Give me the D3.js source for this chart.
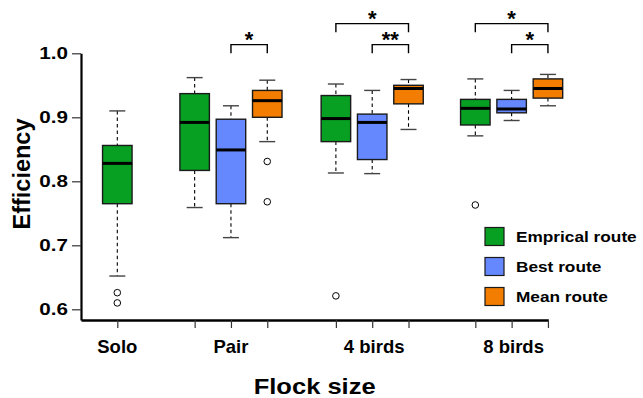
<!DOCTYPE html>
<html>
<head>
<meta charset="utf-8">
<script src="https://cdn.jsdelivr.net/npm/d3@7"></script>
<style>
  body { margin: 0; background: #fff; }
  text { font-family: "Liberation Sans", Arial, Helvetica, sans-serif; font-weight: bold; fill: #000; }
</style>
</head>
<body>
<div id="chart"></div>
<script>
// Box plot: route efficiency by flock size

const width = 643;
const height = 398;

// groups and series
const groups = ["Solo", "Pair", "4 birds", "8 birds"];
const series = ["Emprical route", "Best route", "Mean route"];
const colors = ["#08a022", "#6688ff", "#f27d00"];

// one entry per box
const boxGroup  = ["Solo", "Pair", "Pair", "Pair", "4 birds", "4 birds", "4 birds", "8 birds", "8 birds", "8 birds"];
const boxSeries = ["Emprical route", "Emprical route", "Best route", "Mean route",
                   "Emprical route", "Best route", "Mean route",
                   "Emprical route", "Best route", "Mean route"];
const whiskerLow  = [0.652, 0.759, 0.712, 0.862, 0.813, 0.812, 0.881, 0.871, 0.895, 0.918];
const q1          = [0.765, 0.817, 0.765, 0.900, 0.862, 0.834, 0.921, 0.888, 0.907, 0.930];
const median      = [0.828, 0.892, 0.849, 0.926, 0.898, 0.892, 0.945, 0.914, 0.913, 0.945];
const q3          = [0.856, 0.937, 0.897, 0.942, 0.934, 0.905, 0.950, 0.928, 0.928, 0.960];
const whiskerHigh = [0.910, 0.962, 0.918, 0.958, 0.952, 0.942, 0.959, 0.960, 0.942, 0.967];
const outliers    = [[0.626, 0.610], [], [], [0.831, 0.768], [0.621], [], [], [0.763], [], []];

// y ticks
const yTicks = [0.6, 0.7, 0.8, 0.9, 1.0];

// significance brackets
const sigGroup = ["Pair", "4 birds", "4 birds", "8 birds", "8 birds"];
const sigFrom  = ["Best route", "Emprical route", "Best route", "Emprical route", "Best route"];
const sigTo    = ["Mean route", "Mean route", "Mean route", "Mean route", "Mean route"];
const sigLabel = ["*", "*", "**", "*", "*"];
const sigTier  = [0, 1, 0, 1, 0];

// layout (box slot of each group centre, like R's boxplot "at")
const groupAt = [0, 3.13, 7.02, 10.86];

const svg = d3.select("#chart")
  .append("svg")
  .attr("width", width)
  .attr("height", height);

const x = d3.scaleLinear().domain([-1, 11.87]).range([81, 548.3]);
const y = d3.scaleLinear().domain([0.5833, 1.0]).range([320, 53.3]);

// slot of a box: group centre, plus offset of its series when the group has several
function slotOf(g, s) {
  const gi = groups.indexOf(g);
  const n = boxGroup.filter(d => d === g).length;
  return groupAt[gi] + (n === 1 ? 0 : series.indexOf(s) - 1);
}

const boxes = boxGroup.map((g, i) => ({
  group: g, series: boxSeries[i], slot: slotOf(g, boxSeries[i]),
  lo: whiskerLow[i], q1: q1[i], med: median[i], q3: q3[i], hi: whiskerHigh[i], out: outliers[i]
}));

/* Axes */
const ySx = 1.25;
const yAxis = svg.append("g")
  .attr("transform", "translate(81,0)")
  .call(d3.axisLeft(y).tickValues(yTicks).tickFormat(d3.format(".1f")).tickSize(9).tickSizeOuter(0));
yAxis.select(".domain").attr("stroke", "#000").attr("stroke-width", 2.2);
yAxis.selectAll(".tick line").attr("stroke", "#333").attr("stroke-width", 1.2);
yAxis.selectAll(".tick text")
  .attr("font-size", 16.5)
  .attr("font-family", null)
  .attr("x", -13 / ySx)
  .attr("transform", `scale(${ySx},1)`);

const xAxis = svg.append("g")
  .attr("transform", "translate(0,320)")
  .call(d3.axisBottom(x).tickValues(boxes.map(d => d.slot)).tickFormat("").tickSize(8).tickSizeOuter(0));
xAxis.select(".domain").attr("stroke", "#000").attr("stroke-width", 2.6);
xAxis.selectAll(".tick line").attr("stroke", "#333").attr("stroke-width", 1.2);

// group labels
svg.selectAll(".glabel")
  .data(groups)
  .enter()
  .append("text")
    .attr("class", "glabel")
    .attr("x", (d, i) => x(groupAt[i]) + (i > 1 ? 2 : 0))
    .attr("y", 353)
    .attr("text-anchor", "middle")
    .attr("font-size", 18.5)
    .text(d => d);

// axis titles
svg.append("text")
  .attr("transform", `translate(${(x.range()[0] + x.range()[1]) / 2},394) scale(1.16,1)`)
  .attr("text-anchor", "middle")
  .attr("font-size", 22)
  .text("Flock size");

svg.append("text")
  .attr("transform", "translate(29.5,174) rotate(-90)")
  .attr("text-anchor", "middle")
  .attr("font-size", 23.5)
  .text("Efficiency");

/* Boxes */
const boxW = 29.5;
const capW = 16;

const b = svg.selectAll(".box")
  .data(boxes)
  .enter()
  .append("g")
    .attr("class", "box");

// dashed whiskers
b.append("line")
  .attr("x1", d => x(d.slot)).attr("x2", d => x(d.slot))
  .attr("y1", d => y(d.hi)).attr("y2", d => y(d.q3))
  .attr("stroke", "#000").attr("stroke-width", 1.1).attr("stroke-dasharray", "3.5,3");
b.append("line")
  .attr("x1", d => x(d.slot)).attr("x2", d => x(d.slot))
  .attr("y1", d => y(d.q1)).attr("y2", d => y(d.lo))
  .attr("stroke", "#000").attr("stroke-width", 1.1).attr("stroke-dasharray", "3.5,3");

// whisker caps
b.selectAll(".cap")
  .data(d => [d.hi, d.lo].map(v => ({ slot: d.slot, v: v })))
  .enter()
  .append("line")
    .attr("class", "cap")
    .attr("x1", d => x(d.slot) - capW / 2).attr("x2", d => x(d.slot) + capW / 2)
    .attr("y1", d => y(d.v)).attr("y2", d => y(d.v))
    .attr("stroke", "#444").attr("stroke-width", 1.4);

// box
b.append("rect")
  .attr("x", d => x(d.slot) - boxW / 2)
  .attr("y", d => y(d.q3))
  .attr("width", boxW)
  .attr("height", d => y(d.q1) - y(d.q3))
  .attr("fill", d => colors[series.indexOf(d.series)])
  .attr("stroke", "#1a1a1a")
  .attr("stroke-width", 1.4);

// median
b.append("line")
  .attr("x1", d => x(d.slot) - boxW / 2).attr("x2", d => x(d.slot) + boxW / 2)
  .attr("y1", d => y(d.med)).attr("y2", d => y(d.med))
  .attr("stroke", "#000").attr("stroke-width", 3);

// outliers
b.selectAll(".out")
  .data(d => d.out.map(v => ({ slot: d.slot, v: v })))
  .enter()
  .append("circle")
    .attr("class", "out")
    .attr("cx", d => x(d.slot))
    .attr("cy", d => y(d.v))
    .attr("r", 3.3)
    .attr("fill", "#fff")
    .attr("stroke", "#000")
    .attr("stroke-width", 1);

/* Significance brackets */
const tierY = [1.0135, 1.0463];
const drop = 8.5;
const sig = sigGroup.map((g, i) => ({
  x1: x(slotOf(g, sigFrom[i])), x2: x(slotOf(g, sigTo[i])),
  yy: y(tierY[sigTier[i]]), label: sigLabel[i]
}));

svg.selectAll(".bracket")
  .data(sig)
  .enter()
  .append("path")
    .attr("class", "bracket")
    .attr("d", d => `M${d.x1},${d.yy + drop}V${d.yy}H${d.x2}V${d.yy + drop}`)
    .attr("fill", "none")
    .attr("stroke", "#000")
    .attr("stroke-width", 1.4);

svg.selectAll(".star")
  .data(sig)
  .enter()
  .append("text")
    .attr("class", "star")
    .attr("x", d => (d.x1 + d.x2) / 2)
    .attr("y", d => d.yy + 2.5)
    .attr("text-anchor", "middle")
    .attr("font-size", 22)
    .text(d => d.label);

/* Legend */
const legSx = 1.19;
const leg = svg.selectAll(".legend")
  .data(series)
  .enter()
  .append("g")
    .attr("class", "legend")
    .attr("transform", (d, i) => `translate(485,${227.5 + i * 30})`);

leg.append("rect")
  .attr("width", 19)
  .attr("height", 18)
  .attr("fill", (d, i) => colors[i])
  .attr("stroke", "#1a1a1a")
  .attr("stroke-width", 1.2);

leg.append("text")
  .attr("transform", `translate(31,14) scale(${legSx},1)`)
  .attr("font-size", 14.5)
  .text(d => d);
</script>
</body>
</html>
